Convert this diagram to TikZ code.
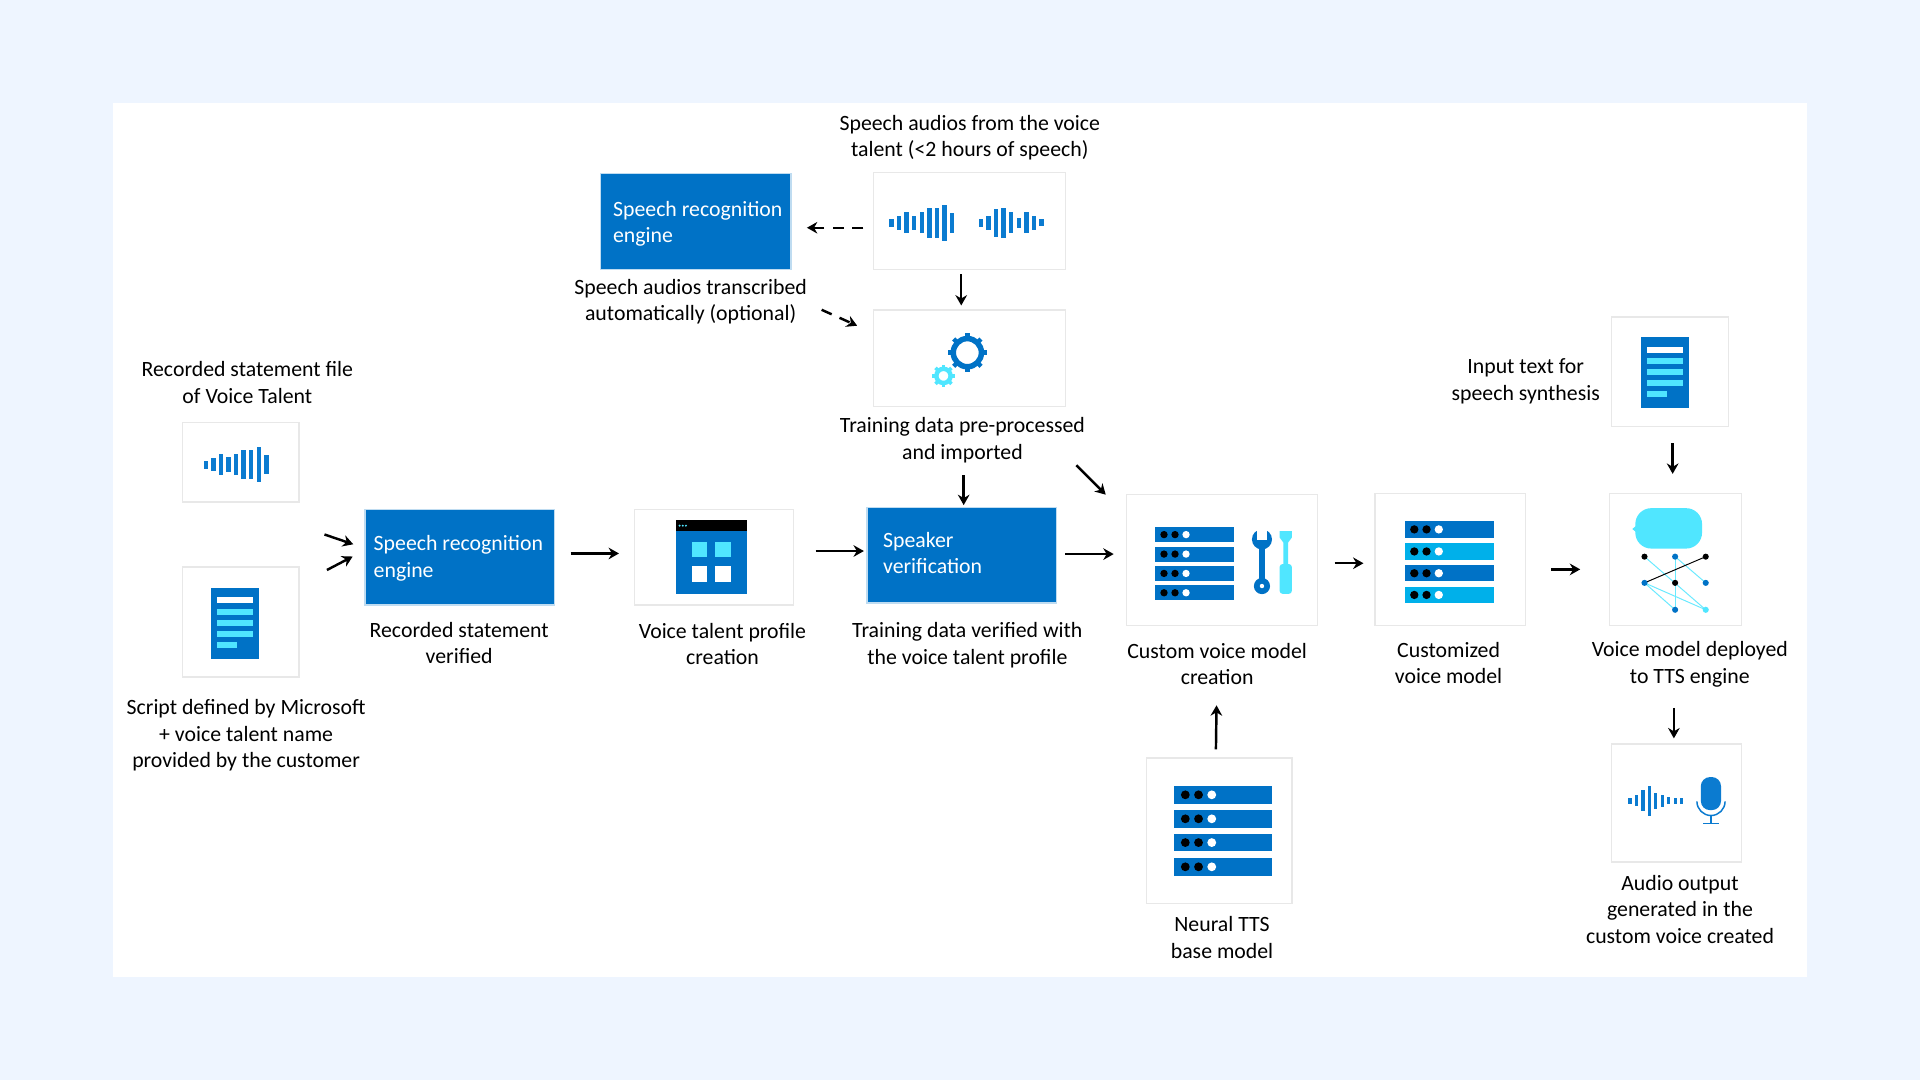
\documentclass[tikz,border=0pt]{standalone}
\usepackage{fontspec}
\setmainfont{Carlito}
\usetikzlibrary{arrows.meta}
\definecolor{bgc}{HTML}{EEF5FF}
\definecolor{msblue}{HTML}{0072C6}
\definecolor{wavec}{HTML}{0B7BD0}
\definecolor{mscyan}{HTML}{50E6FF}
\definecolor{msmid}{HTML}{00B0EA}
\definecolor{edgec}{HTML}{E8E8E8}
\tikzset{
  x=1pt,y=-1pt,
  panelbox/.style={draw=edgec,line width=1.2pt,fill=white},
  bluebox/.style={draw=msblue!25,line width=1pt,fill=msblue},
  lbl/.style={font=\fontsize{17.8}{21.5}\selectfont,align=center,text=black,inner sep=0pt},
  boxlbl/.style={font=\fontsize{17.8}{21.5}\selectfont,align=left,text=white,inner sep=0pt,anchor=west},
  arr/.style={line width=2pt,-{Stealth[length=8.5pt,width=9.5pt]},black},
  darr/.style={arr,dash pattern=on 9pt off 7pt},
  netline/.style={mscyan!85!white,line width=0.8pt},
}
% x-left, y-centre, spacing, width, list of heights
\newcommand{\wavebars}[5]{%
  \foreach \hh [count=\ii from 0] in {#5}{
    \fill[wavec] ({#1+\ii*#3-#4/2},{#2-\hh/2}) rectangle ({#1+\ii*#3+#4/2},{#2+\hh/2});
  }}
\newcommand{\docicon}[2]{%
  \begin{scope}[shift={(#1,#2)}]
    \fill[msblue] (0,0) rectangle (39.4,58);
    \fill[white] (5,7.6) rectangle (34.4,12.8);
    \foreach \yy in {17,26,35}{\fill[mscyan] (5,\yy) rectangle (34.4,\yy+5.2);}
    \fill[mscyan] (5,44) rectangle (21.5,49);
  \end{scope}}
% x1,x2,ytop,height,dot1,dotgap,dotr,colour
\newcommand{\serverrow}[8]{%
  \fill[#8] (#1,#3) rectangle (#2,#3+#4);
  \fill[black] (#5,#3+#4/2) circle[radius=#7];
  \fill[black] (#5+#6,#3+#4/2) circle[radius=#7];
  \fill[white] (#5+2*#6,#3+#4/2) circle[radius=#7];}
\newcommand{\gear}[6]{% x y rmid ringw toothlen colour (numbers in picture units)
  \draw[#6,line width=#4pt] (#1,#2) circle[radius=#3];
  \foreach \aa in {0,45,...,315}{
    \draw[#6,line width=#4*0.8pt] ({#1+#3*cos(\aa)},{#2+#3*sin(\aa)}) -- ({#1+(#3+#5+#4/2)*cos(\aa)},{#2+(#3+#5+#4/2)*sin(\aa)});
  }}
\begin{document}
\begin{tikzpicture}
\useasboundingbox (0,0) rectangle (1568,882);
\fill[bgc] (0,0) rectangle (1568,882);
\fill[white] (92,84) rectangle (1476,798);

% boxes
\draw[bluebox] (490.5,141.5) rectangle (646,220);
\node[boxlbl] (srtop) at (500.5,183) {Speech recognition\\engine};
\draw[panelbox] (713.5,141) rectangle (870,220);
\draw[panelbox] (713.5,253) rectangle (870,332);
\draw[panelbox] (149,345) rectangle (244,410);
\draw[panelbox] (149,463) rectangle (244,553);
\draw[bluebox] (298,416) rectangle (453,494);
\node[boxlbl] (srleft) at (305,456) {Speech recognition\\engine};
\draw[panelbox] (518,416) rectangle (648,494);
\draw[bluebox] (708,414.5) rectangle (863,492.5);
\node[boxlbl] (spk) at (721,451.5) {Speaker\\verification};
\draw[panelbox] (920,404) rectangle (1076,511);
\draw[panelbox] (1123,403) rectangle (1246,511);
\draw[panelbox] (1316,259) rectangle (1411.5,348.5);
\draw[panelbox] (1314.5,403) rectangle (1422,511);
\draw[panelbox] (1316,607.5) rectangle (1422,704);
\draw[panelbox] (936.5,619) rectangle (1055,738);

% labels
\node[lbl] (t1) at (792,112.5) {Speech audios from the voice\\talent (<2 hours of speech)};
\node[lbl] (t2) at (564,246.5) {Speech audios transcribed\\automatically (optional)};
\node[lbl] (t3) at (786,359.5) {Training data pre-processed\\and imported};
\node[lbl] (t4) at (202,312.5) {Recorded statement file\\of Voice Talent};
\node[lbl] (t5) at (201,600.5) {Script defined by Microsoft\\+ voice talent name\\provided by the customer};
\node[lbl] (t6) at (375,525) {Recorded statement\\verified};
\node[lbl] (t7) at (590,526) {Voice talent profile\\creation};
\node[lbl] (t8) at (790,527) {Training data verified with\\the voice talent profile};
\node[lbl] (t9) at (994,542.5) {Custom voice model\\creation};
\node[lbl] (t10) at (1183,541.5) {Customized\\voice model};
\node[lbl] (t11) at (1380,542.5) {Voice model deployed\\to TTS engine};
\node[lbl] (t12) at (1246,311.5) {Input text for\\speech synthesis};
\node[lbl] (t13) at (998,765.5) {Neural TTS\\base model};
\node[lbl] (t14) at (1372,742.5) {Audio output\\generated in the\\custom voice created};

% waves
\wavebars{728}{182}{6.2}{3.6}{6.5,11,17,12,17,24,24,29,16}
\wavebars{801}{182}{6.2}{3.6}{6.5,11,23,24,17,8,17,12,5.5}
\wavebars{168}{379.5}{6.2}{3.6}{6.5,11,17,12,17,24,24,29,16}
\wavebars{1331}{654}{5.3}{2.8}{5,9,17,25,13,10,6,5,5}

% gears
\gear{790}{288}{11.5}{4.5}{2}{msblue}
\gear{770.5}{307}{5.8}{3.6}{1.6}{mscyan}

% documents
\docicon{172.3}{480}
\docicon{1340}{275.4}

% profile window
\fill[msblue] (552,425) rectangle (610,485);
\fill[black] (552,425) rectangle (610,433.5);
\foreach \xx in {555,557.6,560.2}{\fill[mscyan] (\xx,429.3) circle[radius=0.9];}
\fill[mscyan] (565,443) rectangle (577.5,455);
\fill[mscyan] (584,443) rectangle (597,455);
\fill[white] (565,462) rectangle (577.5,475);
\fill[white] (584,462) rectangle (597,475);

% custom voice: servers and tools
\foreach \yy in {430.5,446.4,462.2,478}{\serverrow{943}{1008}{\yy}{12.2}{950.6}{9}{3}{msblue}}
\fill[msblue] (1030.6,440.5) circle[radius=8.2];
\fill[white] (1026.8,432) rectangle (1034.4,441);
\fill[msblue] (1028,445) rectangle (1033.2,475);
\fill[msblue] (1030.6,478.6) circle[radius=6.6];
\fill[white] (1030.6,478.6) circle[radius=1.8];
\fill[mscyan] (1045,433.7) -- (1055,433.7) -- (1055,439) -- (1052,443) -- (1052,461) -- (1048,461) -- (1048,443) -- (1045,439) -- cycle;
\fill[mscyan,rounded corners=2.5pt] (1045,460.6) rectangle (1055,485);

% customized model
\serverrow{1147}{1220}{425.7}{13.3}{1155}{10}{3.4}{msblue}
\serverrow{1147}{1220}{443.7}{13.3}{1155}{10}{3.4}{msmid}
\serverrow{1147}{1220}{461.5}{13.3}{1155}{10}{3.4}{msblue}
\serverrow{1147}{1220}{479.2}{13.3}{1155}{10}{3.4}{msmid}

% neural base
\foreach \yy in {642,661.6,681,700.8}{\serverrow{959}{1039}{\yy}{14.2}{968}{10.8}{3.6}{msblue}}

% bubble and network
\fill[mscyan,rounded corners=13pt] (1335.5,415) rectangle (1390,448);
\fill[mscyan] (1333,432) -- (1338,428) -- (1338,436) -- cycle;
\draw[netline] (1343,454.6) -- (1393,498);
\draw[netline] (1368,454.6) -- (1368,498);
\draw[netline] (1368,454.6) -- (1393,476);
\draw[netline] (1343,476) -- (1368,498);
\draw[netline] (1343,476) -- (1393,498);
\draw[black,line width=0.8pt] (1343,476) -- (1393,454.6);
\fill[black] (1343,454.6) circle[radius=2.5];
\fill[msblue] (1368,454.6) circle[radius=2.5];
\fill[black] (1393,454.6) circle[radius=2.5];
\fill[msblue] (1343,476) circle[radius=2.5];
\fill[black] (1368,476) circle[radius=2.5];
\fill[msblue] (1393,476) circle[radius=2.5];
\fill[msblue] (1368,498) circle[radius=2.5];
\fill[mscyan] (1393,498) circle[radius=2.5];

% microphone
\fill[wavec,rounded corners=7.5pt] (1389,634.6) rectangle (1405.5,661.6);
\draw[wavec,line width=1.2pt] (1385.8,654.5) arc[start angle=180,end angle=0,radius=11.5];
\draw[wavec,line width=1.2pt] (1397.3,666) -- (1397.3,672.5);
\draw[wavec,line width=1.2pt] (1391,672.5) -- (1404,672.5);

% connector ends
\coordinate (a1s) at (705,186); \coordinate (a1e) at (659,186);
\coordinate (a2s) at (671,253); \coordinate (a2e) at (700,266);
\coordinate (a3s) at (785,224); \coordinate (a3e) at (785,249.5);
\coordinate (a4s) at (265,436.5); \coordinate (a4e) at (288.5,444.5);
\coordinate (a5s) at (267,465.5); \coordinate (a5e) at (288,454.5);
\coordinate (a6s) at (466,452); \coordinate (a6e) at (505.5,452);
\coordinate (a7s) at (666,450); \coordinate (a7e) at (705.5,450);
\coordinate (a8s) at (787,388); \coordinate (a8e) at (787,412.5);
\coordinate (a9s) at (879,380); \coordinate (a9e) at (903,404);
\coordinate (a10s) at (870,452.5); \coordinate (a10e) at (909.5,452.5);
\coordinate (a11s) at (1090,460); \coordinate (a11e) at (1113.5,460);
\coordinate (a12s) at (1267,465); \coordinate (a12e) at (1290.5,465);
\coordinate (a13s) at (1366,362); \coordinate (a13e) at (1366,387);
\coordinate (a14s) at (1367,578); \coordinate (a14e) at (1367,603);
\coordinate (a15s) at (993,612); \coordinate (a15e) at (993.5,576);
\draw[darr] (a1s) -- (a1e);
\draw[darr] (a2s) -- (a2e);
\foreach \k in {3,...,15}{\draw[arr] (a\k s) -- (a\k e);}
\end{tikzpicture}
\end{document}
